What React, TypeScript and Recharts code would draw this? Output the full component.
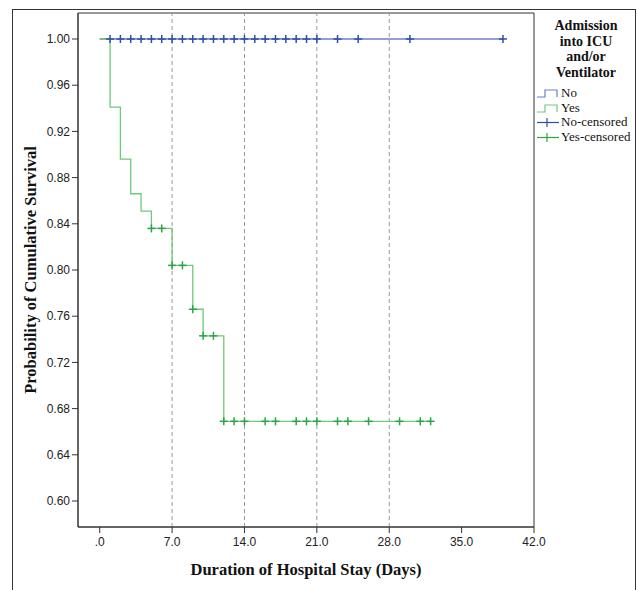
import React from "react";
import {
  ComposedChart,
  Line,
  Scatter,
  XAxis,
  YAxis,
  ReferenceLine,
  ReferenceArea,
} from "recharts";

// Kaplan-Meier steps (day, cumulative survival)
const noDays = [0, 39];
const noSurv = [1.0, 1.0];
const yesDays = [0, 1, 2, 3, 4, 5, 7, 9, 10, 12, 32];
const yesSurv = [1.0, 0.941, 0.896, 0.866, 0.851, 0.836, 0.804, 0.766, 0.743, 0.669, 0.669];

// censored observations
const noCensorDays = [1, 2, 3, 4, 5, 6, 7, 8, 9, 10, 11, 12, 13, 14, 15, 16, 17, 18, 19, 20, 21, 23, 25, 30, 39];
const yesCensorDays = [5, 6, 7, 8, 9, 10, 11, 12, 13, 14, 16, 17, 19, 20, 21, 23, 24, 26, 29, 31, 32];
const yesCensorSurv = [0.836, 0.836, 0.804, 0.804, 0.766, 0.743, 0.743, 0.669, 0.669, 0.669, 0.669, 0.669, 0.669, 0.669, 0.669, 0.669, 0.669, 0.669, 0.669, 0.669, 0.669];

const xTicks = [0, 7, 14, 21, 28, 35, 42];
const yTicks = [0.6, 0.64, 0.68, 0.72, 0.76, 0.8, 0.84, 0.88, 0.92, 0.96, 1.0];
const gridDays = [7, 14, 21, 28];

const legendTitle = ["Admission", "into ICU", "and/or", "Ventilator"];
const legendItems = ["No", "Yes", "No-censored", "Yes-censored"];

const X_DOMAIN: [number, number] = [-2.1, 42];
const Y_DOMAIN: [number, number] = [0.5775, 1.0225];

const BLUE_LINE = "#6b7fcd";
const BLUE_MARK = "#2f4ea6";
const GREEN_LINE = "#72c87a";
const GREEN_MARK = "#2aa646";

const noLine = noDays.map((x, i) => ({ x, y: noSurv[i] }));
const yesLine = yesDays.map((x, i) => ({ x, y: yesSurv[i] }));
const noCensor = noCensorDays.map((x) => ({ x, y: 1.0 }));
const yesCensor = yesCensorDays.map((x, i) => ({ x, y: yesCensorSurv[i] }));

const plusShape = (color: string) => (props: any) => {
  const { cx, cy } = props;
  return (
    <g stroke={color} strokeWidth={1.5}>
      <line x1={cx - 4} y1={cy} x2={cx + 4} y2={cy} />
      <line x1={cx} y1={cy - 4} x2={cx} y2={cy + 4} />
    </g>
  );
};

const serif = '"Liberation Serif", "Times New Roman", serif';

function LegendBox() {
  const colors = [BLUE_LINE, GREEN_LINE, BLUE_MARK, GREEN_MARK];
  return (
    <div
      style={{
        position: "absolute",
        left: 536,
        top: 18,
        width: 100,
        fontFamily: serif,
        color: "#111",
      }}
    >
      <div
        style={{
          width: 100,
          textAlign: "center",
          fontWeight: "bold",
          fontSize: 14,
          lineHeight: "15.5px",
        }}
      >
        {legendTitle.map((t) => (
          <div key={t}>{t}</div>
        ))}
      </div>
      <div style={{ marginTop: 6 }}>
        {legendItems.map((label, i) => (
          <div
            key={label}
            style={{ display: "flex", alignItems: "center", height: 14.5, fontSize: 13 }}
          >
            <svg width={24} height={12} style={{ marginRight: 1 }}>
              {i < 2 ? (
                <path d="M1,10 H9 V3 H21 V10" fill="none" stroke={colors[i]} strokeWidth={1.2} />
              ) : (
                <g stroke={colors[i]} strokeWidth={1.2}>
                  <line x1={1} y1={6.5} x2={23} y2={6.5} />
                  <line x1={11} y1={2} x2={11} y2={11} />
                </g>
              )}
            </svg>
            <span>{label}</span>
          </div>
        ))}
      </div>
    </div>
  );
}

export default function App() {
  return (
    <div
      style={{
        position: "absolute",
        left: 0,
        top: 0,
        width: 637,
        height: 590,
        overflow: "hidden",
        background: "#fff",
        fontFamily: '"Liberation Sans", Arial, sans-serif',
      }}
    >
      <div
        style={{
          position: "absolute",
          left: 12,
          top: 9,
          width: 622,
          height: 620,
          border: "1px solid #333",
        }}
      />
      <ComposedChart
        width={637}
        height={590}
        margin={{ top: 13, right: 103, bottom: 0, left: 0 }}
        style={{ position: "absolute", left: 0, top: 0 }}
      >
        <XAxis
          dataKey="x"
          type="number"
          domain={X_DOMAIN}
          ticks={xTicks}
          allowDataOverflow
          tickFormatter={(v: number) => (v === 0 ? ".0" : v.toFixed(1))}
          tick={{ fill: "#222", fontSize: 12 }}
          tickSize={6}
          tickMargin={4}
          stroke="#333"
          height={63}
          label={{
            value: "Duration of Hospital Stay (Days)",
            position: "insideBottom",
            offset: 15,
            style: { fontFamily: serif, fontWeight: "bold", fontSize: 16.5, fill: "#111" },
          }}
        />
        <YAxis
          type="number"
          domain={Y_DOMAIN}
          ticks={yTicks}
          allowDataOverflow
          tickFormatter={(v: number) => v.toFixed(2)}
          tick={{ fill: "#222", fontSize: 12 }}
          tickSize={6}
          tickMargin={2}
          stroke="#333"
          width={78}
          label={{
            value: "Probability of Cumulative Survival",
            angle: -90,
            position: "insideLeft",
            offset: 30,
            textAnchor: "middle",
            style: { fontFamily: serif, fontWeight: "bold", fontSize: 16.5, fill: "#111", textAnchor: "middle" },
          }}
        />
        {gridDays.map((d) => (
          <ReferenceLine key={d} x={d} stroke="#9a9a9a" strokeDasharray="4 3" />
        ))}
        <ReferenceArea
          x1={X_DOMAIN[0]}
          x2={X_DOMAIN[1]}
          y1={Y_DOMAIN[0]}
          y2={Y_DOMAIN[1]}
          fill="none"
          fillOpacity={0}
          stroke="#333"
          strokeWidth={1}
        />
        <Line
          data={noLine}
          dataKey="y"
          type="stepAfter"
          stroke={BLUE_LINE}
          strokeWidth={1.3}
          dot={false}
          isAnimationActive={false}
        />
        <Line
          data={yesLine}
          dataKey="y"
          type="stepAfter"
          stroke={GREEN_LINE}
          strokeWidth={1.3}
          dot={false}
          isAnimationActive={false}
        />
        <Scatter
          data={noCensor}
          dataKey="y"
          shape={plusShape(BLUE_MARK)}
          isAnimationActive={false}
        />
        <Scatter
          data={yesCensor}
          dataKey="y"
          shape={plusShape(GREEN_MARK)}
          isAnimationActive={false}
        />
      </ComposedChart>
      <LegendBox />
    </div>
  );
}
